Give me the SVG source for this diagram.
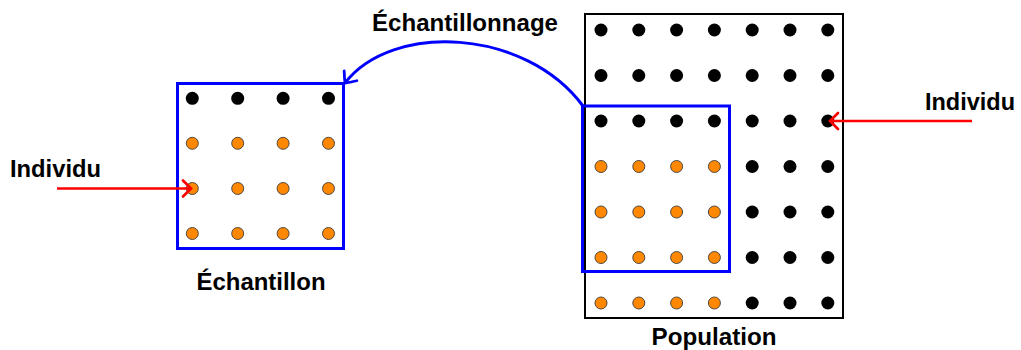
<svg xmlns="http://www.w3.org/2000/svg" width="1021" height="350" viewBox="0 0 1021 350">
<style>
  .lbl { font-family: "Liberation Sans", Arial, sans-serif; font-weight: bold; font-size: 23px; fill: #000; }
  .blk { fill: #000; }
  .org { fill: #FF8800; stroke: #3a3a3a; stroke-width: 0.9; }
  .blue { fill: none; stroke: #0000FF; stroke-width: 3; }
  .red { fill: none; stroke: #FF0000; stroke-width: 2.7; }
</style>
<defs>
  <marker id="tipBlue" markerUnits="userSpaceOnUse" markerWidth="24" markerHeight="24" viewBox="-12 -12 24 24" refX="0" refY="0" orient="auto" overflow="visible">
    <path d="M-9,-8 C-6,-5.5 -2,-2 0,0 C-2,2 -6,5.5 -9,8" fill="none" stroke="#0000FF" stroke-width="2.8" stroke-linecap="round"/>
  </marker>
  <marker id="tipRed" markerUnits="userSpaceOnUse" markerWidth="24" markerHeight="24" viewBox="-12 -12 24 24" refX="0" refY="0" orient="auto" overflow="visible">
    <path d="M-8,-8 C-5,-5 -2,-2 0,0 C-2,2 -5,5 -8,8" fill="none" stroke="#FF0000" stroke-width="2.7" stroke-linecap="round"/>
  </marker>
</defs>

<g id="population">
  <rect x="585" y="14" width="258" height="304" fill="none" stroke="#000" stroke-width="2"/>
  <g>
    <circle class="blk" cx="601" cy="30" r="6.5"/><circle class="blk" cx="638.8" cy="30" r="6.5"/><circle class="blk" cx="676.6" cy="30" r="6.5"/><circle class="blk" cx="714.4" cy="30" r="6.5"/><circle class="blk" cx="752.2" cy="30" r="6.5"/><circle class="blk" cx="790" cy="30" r="6.5"/><circle class="blk" cx="827.8" cy="30" r="6.5"/>
    <circle class="blk" cx="601" cy="75.5" r="6.5"/><circle class="blk" cx="638.8" cy="75.5" r="6.5"/><circle class="blk" cx="676.6" cy="75.5" r="6.5"/><circle class="blk" cx="714.4" cy="75.5" r="6.5"/><circle class="blk" cx="752.2" cy="75.5" r="6.5"/><circle class="blk" cx="790" cy="75.5" r="6.5"/><circle class="blk" cx="827.8" cy="75.5" r="6.5"/>
    <circle class="blk" cx="601" cy="121" r="6.5"/><circle class="blk" cx="638.8" cy="121" r="6.5"/><circle class="blk" cx="676.6" cy="121" r="6.5"/><circle class="blk" cx="714.4" cy="121" r="6.5"/><circle class="blk" cx="752.2" cy="121" r="6.5"/><circle class="blk" cx="790" cy="121" r="6.5"/><circle class="blk" cx="827.8" cy="121" r="6.5"/>
    <circle class="org" cx="601" cy="166.5" r="6"/><circle class="org" cx="638.8" cy="166.5" r="6"/><circle class="org" cx="676.6" cy="166.5" r="6"/><circle class="org" cx="714.4" cy="166.5" r="6"/><circle class="blk" cx="752.2" cy="166.5" r="6.5"/><circle class="blk" cx="790" cy="166.5" r="6.5"/><circle class="blk" cx="827.8" cy="166.5" r="6.5"/>
    <circle class="org" cx="601" cy="212" r="6"/><circle class="org" cx="638.8" cy="212" r="6"/><circle class="org" cx="676.6" cy="212" r="6"/><circle class="org" cx="714.4" cy="212" r="6"/><circle class="blk" cx="752.2" cy="212" r="6.5"/><circle class="blk" cx="790" cy="212" r="6.5"/><circle class="blk" cx="827.8" cy="212" r="6.5"/>
    <circle class="org" cx="601" cy="257.5" r="6"/><circle class="org" cx="638.8" cy="257.5" r="6"/><circle class="org" cx="676.6" cy="257.5" r="6"/><circle class="org" cx="714.4" cy="257.5" r="6"/><circle class="blk" cx="752.2" cy="257.5" r="6.5"/><circle class="blk" cx="790" cy="257.5" r="6.5"/><circle class="blk" cx="827.8" cy="257.5" r="6.5"/>
    <circle class="org" cx="601" cy="303" r="6"/><circle class="org" cx="638.8" cy="303" r="6"/><circle class="org" cx="676.6" cy="303" r="6"/><circle class="org" cx="714.4" cy="303" r="6"/><circle class="blk" cx="752.2" cy="303" r="6.5"/><circle class="blk" cx="790" cy="303" r="6.5"/><circle class="blk" cx="827.8" cy="303" r="6.5"/>
  </g>
  <rect class="blue" x="582.5" y="106" width="147" height="165.5"/>
  <text class="lbl" x="714" y="345" text-anchor="middle" textLength="125" lengthAdjust="spacingAndGlyphs">Population</text>
</g>

<g id="echantillon">
  <rect class="blue" x="177.5" y="83.5" width="166" height="165"/>
  <circle class="blk" cx="192.3" cy="98.3" r="6.5"/><circle class="blk" cx="237.7" cy="98.3" r="6.5"/><circle class="blk" cx="283.1" cy="98.3" r="6.5"/><circle class="blk" cx="328.5" cy="98.3" r="6.5"/>
  <circle class="org" cx="192.3" cy="143.3" r="6"/><circle class="org" cx="237.7" cy="143.3" r="6"/><circle class="org" cx="283.1" cy="143.3" r="6"/><circle class="org" cx="328.5" cy="143.3" r="6"/>
  <circle class="org" cx="192.3" cy="188.5" r="6"/><circle class="org" cx="237.7" cy="188.5" r="6"/><circle class="org" cx="283.1" cy="188.5" r="6"/><circle class="org" cx="328.5" cy="188.5" r="6"/>
  <circle class="org" cx="192.3" cy="233.5" r="6"/><circle class="org" cx="237.7" cy="233.5" r="6"/><circle class="org" cx="283.1" cy="233.5" r="6"/><circle class="org" cx="328.5" cy="233.5" r="6"/>
  <text class="lbl" x="261" y="290" text-anchor="middle" textLength="129" lengthAdjust="spacingAndGlyphs">Échantillon</text>
</g>

<g id="individu-gauche">
  <text class="lbl" x="10" y="177" textLength="91" lengthAdjust="spacingAndGlyphs">Individu</text>
</g>
<g id="individu-droite">
  <text class="lbl" x="925" y="109.5" textLength="90" lengthAdjust="spacingAndGlyphs">Individu</text>
</g>
<g id="echantillonnage-label">
  <text class="lbl" x="465" y="31" text-anchor="middle" textLength="186" lengthAdjust="spacingAndGlyphs">Échantillonnage</text>
</g>

<g id="connectors">
  <path class="blue" d="M583,106 C525,28 392,22 345,83" marker-end="url(#tipBlue)"/>
  <path class="red" d="M57,188.5 L191,188.5" marker-end="url(#tipRed)"/>
  <path class="red" d="M972,121 L830,121" marker-end="url(#tipRed)"/>
</g>
</svg>
